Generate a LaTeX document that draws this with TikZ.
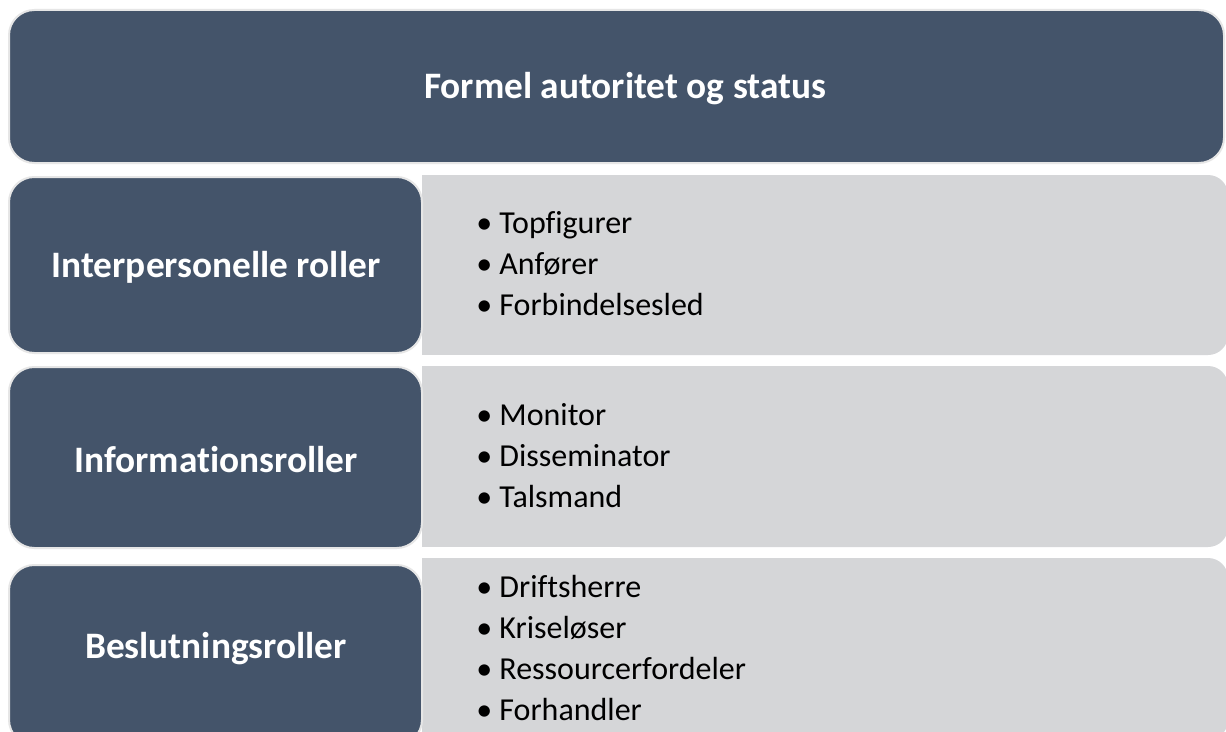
\documentclass[tikz,border=0pt]{standalone}
\usepackage{fontspec}
\setmainfont[Ligatures=NoCommon]{Carlito}
\definecolor{slate}{HTML}{44546A}
\definecolor{panel}{HTML}{D5D6D8}
\definecolor{rim}{HTML}{E6E6E6}
\begin{document}
\begin{tikzpicture}[x=0.75pt,y=-0.75pt,
  headbox/.style={fill=slate,draw=rim,line width=1.5pt,rounded corners=19pt},
  headtext/.style={text=white,font=\fontsize{28}{32}\selectfont\bfseries},
  itemlist/.style={anchor=west,align=left,text=black,inner sep=0pt,
    font=\fontsize{24}{30.75}\selectfont}]
\useasboundingbox (0,0) rectangle (1226,731);
\fill[white] (0,0) rectangle (1226,731);

% title banner
\draw[headbox] (9,10) rectangle (1224,163);
\node[headtext] (title) at (625,89) {Formel autoritet og status};

% light panels holding the role lists
\begin{scope}
\clip (0,0) rectangle (1226,731);
\foreach \top/\bot in {175/355, 366/547, 558/740}{
  \fill[panel,rounded corners=15pt] (600,\top) rectangle (1228,\bot);
  \fill[panel] (422,\top) rectangle (700,\bot);
}
% role group headings
\draw[headbox] (9,177) rectangle (422,353);
\draw[headbox] (9,367) rectangle (422,548);
\draw[headbox] (9,565) rectangle (422,745);
\end{scope}

\node[headtext] (inter) at (216,267) {Interpersonelle roller};
\node[headtext] (info) at (216,460) {Informationsroller};
\node[headtext] (beslut) at (216,649) {Beslutningsroller};

\node[itemlist] (list1) at (476,264) {• Topfigurer\\• Anfører\\• Forbindelsesled};
\node[itemlist] (list2) at (476,456) {• Monitor\\• Disseminator\\• Talsmand};
\node[itemlist] (list3) at (476,648) {• Driftsherre\\• Kriseløser\\• Ressourcerfordeler\\• Forhandler};
\end{tikzpicture}
\end{document}
